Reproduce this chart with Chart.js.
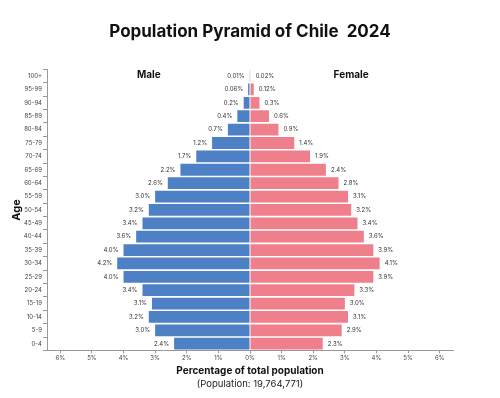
<!DOCTYPE html>
<html>
<head>
<meta charset="utf-8">
<script src="https://cdn.jsdelivr.net/npm/chart.js@4"></script>
<style>
  body { margin: 0; background: #fff; }
</style>
</head>
<body>
<canvas id="pyramide" width="500" height="398"></canvas>
<script>
// Datos (de arriba hacia abajo)
const grupos = ['100+', '95-99', '90-94', '85-89', '80-84', '75-79', '70-74', '65-69', '60-64', '55-59',
  '50-54', '45-49', '40-44', '35-39', '30-34', '25-29', '20-24', '15-19', '10-14', '5-9', '0-4'];
const hombres = [0.01, 0.06, 0.2, 0.4, 0.7, 1.2, 1.7, 2.2, 2.6, 3.0,
  3.2, 3.4, 3.6, 4.0, 4.2, 4.0, 3.4, 3.1, 3.2, 3.0, 2.4];
const mujeres = [0.02, 0.12, 0.3, 0.6, 0.9, 1.4, 1.9, 2.4, 2.8, 3.1,
  3.2, 3.4, 3.6, 3.9, 4.1, 3.9, 3.3, 3.0, 3.1, 2.9, 2.3];
const ticksX = [-6, -5, -4, -3, -2, -1, 0, 1, 2, 3, 4, 5, 6];

const fuente = 'Inter, Lato, sans-serif';

function formato(v) {
    return (Number.isInteger(Math.round(v * 100) / 10) ? v.toFixed(1) : v.toFixed(2)) + '%';
}

// Etiquetas de valores y titulos Male / Female
const etiquetas = {
    id: 'etiquetas',
    afterDatasetsDraw(chart) {
        const ctx = chart.ctx;
        ctx.save();
        ctx.font = '6px ' + fuente;
        ctx.fillStyle = '#333';
        ctx.textBaseline = 'middle';
        chart.getDatasetMeta(0).data.forEach((bar, i) => {
            ctx.textAlign = 'right';
            ctx.fillText(formato(hombres[i]), bar.x - 5, bar.y);
        });
        chart.getDatasetMeta(1).data.forEach((bar, i) => {
            ctx.textAlign = 'left';
            ctx.fillText(formato(mujeres[i]), bar.x + 5, bar.y);
        });
        const x = chart.scales.x;
        const top = chart.chartArea.top;
        ctx.font = 'bold 10px ' + fuente;
        ctx.fillStyle = '#111';
        ctx.textAlign = 'center';
        ctx.fillText('Male', x.getPixelForValue(-3.2), top + 6);
        ctx.fillText('Female', x.getPixelForValue(3.2), top + 6);
        ctx.restore();
    }
};

const ctx = document.getElementById('pyramide').getContext('2d');
new Chart(ctx, {
    type: 'bar',
    data: {
        labels: grupos,
        datasets: [{
            label: 'Male',
            data: hombres.map(v => -v),
            backgroundColor: '#4d80c4',
            barPercentage: 0.88,
            categoryPercentage: 1
        }, {
            label: 'Female',
            data: mujeres,
            backgroundColor: '#f07f8c',
            barPercentage: 0.88,
            categoryPercentage: 1
        }]
    },
    options: {
        indexAxis: 'y',
        responsive: false,
        animation: false,
        layout: { padding: 0 },
        scales: {
            x: {
                stacked: true,
                min: -6.42,
                max: 6.42,
                afterBuildTicks: s => { s.ticks = ticksX.map(v => ({ value: v })); },
                afterFit: s => { s.height = 28.2; },
                ticks: {
                    font: { size: 6, family: fuente },
                    color: '#444',
                    padding: 1,
                    maxRotation: 0,
                    callback: v => Math.abs(v) + '%'
                },
                grid: { drawOnChartArea: false, tickLength: 3, color: '#999' },
                border: { color: '#999' },
                title: {
                    display: true,
                    text: 'Percentage of total population',
                    font: { size: 10, weight: 'bold', family: fuente },
                    color: '#111',
                    padding: { top: 0, bottom: 2 }
                }
            },
            y: {
                stacked: true,
                afterFit: s => { s.width = 47; },
                ticks: {
                    font: { size: 6, family: fuente },
                    color: '#444',
                    padding: 1
                },
                grid: { drawOnChartArea: false, tickLength: 4, color: '#999' },
                border: { color: '#999' },
                title: {
                    display: true,
                    text: 'Age',
                    font: { size: 11, weight: 'bold', family: fuente },
                    color: '#111',
                    padding: { top: 10, bottom: 0 }
                }
            },
            // eje vacio a la derecha para centrar el grafico
            derecha: {
                position: 'right',
                afterFit: s => { s.width = 47; },
                ticks: { display: false },
                grid: { display: false },
                border: { display: false }
            }
        },
        plugins: {
            legend: { display: false },
            tooltip: { enabled: false },
            title: {
                display: true,
                text: 'Population Pyramid of Chile  2024',
                font: { size: 17, weight: 'bold', family: fuente },
                color: '#111',
                padding: { top: 22, bottom: 27 }
            },
            subtitle: {
                display: true,
                position: 'bottom',
                text: '(Population: 19,764,771)',
                font: { size: 9.5, family: fuente },
                color: '#222',
                padding: { top: 0, bottom: 8 }
            }
        }
    },
    plugins: [etiquetas]
});
</script>
</body>
</html>
